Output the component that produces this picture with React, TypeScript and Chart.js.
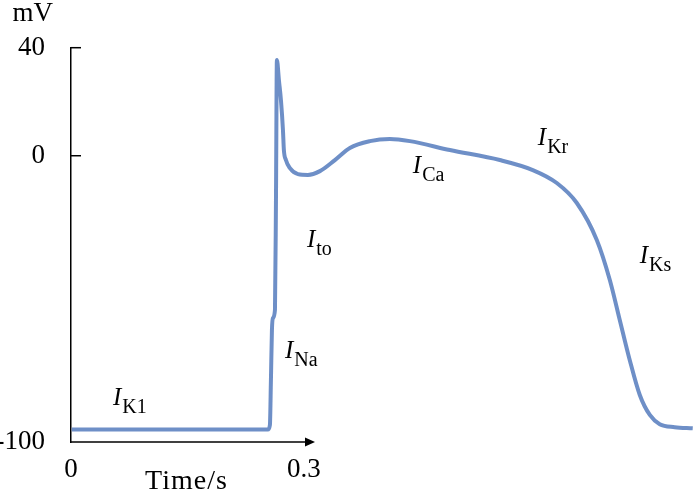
import React, { useEffect, useRef } from "react";
import { Chart, registerables } from "chart.js";

Chart.register(...registerables);

// ---- data ----
const timeS = [
  0.001, 0.2536, 0.2562, 0.2575, 0.2588, 0.2601, 0.2627, 0.264, 0.2652, 0.2678,
  0.2704, 0.273, 0.2742, 0.2768, 0.282, 0.2923, 0.3051, 0.3206, 0.3399, 0.3592,
  0.385, 0.4107, 0.4365, 0.488, 0.5523, 0.5948, 0.6257, 0.6515, 0.6772, 0.694,
  0.7068, 0.7197, 0.7326, 0.7455, 0.7583, 0.7776, 0.8008,
];
const voltageMV = [
  -101.4, -101.4, -99.7, -83.1, -64.6, -60.1, -57.1, -16.4, 35.4, 28.0,
  20.6, 9.5, 2.1, -1.6, -4.6, -6.8, -7.1, -5.7, -1.6, 2.9,
  5.4, 6.2, 5.4, 2.1, -1.6, -5.3, -10.1, -17.5, -31.2, -46.0,
  -60.8, -75.7, -88.6, -96.0, -99.4, -100.5, -100.9,
];

const Y_MIN = -106;
const Y_MAX = 40;
const X_MIN = 0;
const X_MAX = 0.805;
const X_ARROW_END = 0.313;

const yTickValues = [Y_MIN, 0, 40];
const yTickLabels = ["-100", "0", "40"];
const yInnerTickValues = [0, 40];
const xTickValues = [0, 0.3];
const xTickLabels = ["0", "0.3"];

const yUnitLabel = "mV";
const xAxisTitle = "Time/s";
const xAxisTitleAt = 0.1487;

const currentSubscripts = ["K1", "Na", "to", "Ca", "Kr", "Ks"];
const currentLabelT = [0.054, 0.2755, 0.3039, 0.4403, 0.6013, 0.7326];
const currentLabelV = [-92.3, -74.9, -33.8, -6.4, 4.0, -39.7];

const SERIF = '"Liberation Serif", "Times New Roman", serif';

const overlayPlugin = {
  id: "overlay",
  afterDraw(chart: any) {
    const { ctx, chartArea, scales } = chart;
    const xs = scales.x;
    const ys = scales.y;
    ctx.save();
    ctx.strokeStyle = "#000";
    ctx.fillStyle = "#000";
    ctx.lineWidth = 1.5;

    // inner tick marks on the y axis
    for (const v of yInnerTickValues) {
      const y = ys.getPixelForValue(v);
      ctx.beginPath();
      ctx.moveTo(chartArea.left, y);
      ctx.lineTo(chartArea.left + 10, y);
      ctx.stroke();
    }

    // x axis with arrow
    const yAxis = chartArea.bottom;
    const xEnd = xs.getPixelForValue(X_ARROW_END);
    ctx.beginPath();
    ctx.moveTo(chartArea.left - 0.75, yAxis);
    ctx.lineTo(xEnd - 6, yAxis);
    ctx.stroke();
    ctx.beginPath();
    ctx.moveTo(xEnd + 1, yAxis);
    ctx.lineTo(xEnd - 9, yAxis - 4.5);
    ctx.lineTo(xEnd - 9, yAxis + 4.5);
    ctx.closePath();
    ctx.fill();

    // unit label and axis title
    ctx.textBaseline = "alphabetic";
    ctx.font = `27px ${SERIF}`;
    ctx.textAlign = "right";
    ctx.fillText(yUnitLabel, 53, 21);
    ctx.font = `28px ${SERIF}`;
    ctx.textAlign = "center";
    try {
      (ctx as any).letterSpacing = "1px";
    } catch (e) {}
    ctx.fillText(xAxisTitle, xs.getPixelForValue(xAxisTitleAt), 489);
    try {
      (ctx as any).letterSpacing = "0px";
    } catch (e) {}

    // current annotations: italic I with subscript
    ctx.textAlign = "left";
    currentSubscripts.forEach((sub, i) => {
      const x = xs.getPixelForValue(currentLabelT[i]);
      const y = ys.getPixelForValue(currentLabelV[i]);
      ctx.font = `italic 25px ${SERIF}`;
      ctx.fillText("I", x, y);
      const w = ctx.measureText("I").width;
      ctx.font = `20px ${SERIF}`;
      ctx.fillText(sub, x + w + 1, y + 8);
    });

    ctx.restore();
  },
};

export default function App() {
  const canvasRef = useRef<HTMLCanvasElement | null>(null);

  useEffect(() => {
    if (!canvasRef.current) return;
    const points = timeS.map((t, i) => ({ x: t, y: voltageMV[i] }));
    const chart = new Chart(canvasRef.current, {
      type: "line",
      data: {
        datasets: [
          {
            data: points,
            borderColor: "rgba(98, 134, 194, 0.92)",
            borderWidth: 4,
            pointRadius: 0,
            cubicInterpolationMode: "monotone",
            fill: false,
          },
        ],
      },
      options: {
        animation: false,
        responsive: false,
        devicePixelRatio: 1,
        layout: { padding: { top: 47.7, right: 4, left: 0, bottom: 0 } },
        plugins: {
          legend: { display: false },
          tooltip: { enabled: false },
          title: { display: false },
        },
        scales: {
          x: {
            type: "linear",
            min: X_MIN,
            max: X_MAX,
            grid: { display: false },
            border: { display: false },
            afterBuildTicks: (scale: any) => {
              scale.ticks = xTickValues.map((v) => ({ value: v }));
            },
            afterFit: (scale: any) => {
              scale.height = 51;
            },
            ticks: {
              autoSkip: false,
              maxRotation: 0,
              padding: 4,
              color: "#000",
              font: { family: SERIF, size: 27 },
              callback: (_v: any, i: number) => xTickLabels[i],
            },
          },
          y: {
            type: "linear",
            min: Y_MIN,
            max: Y_MAX,
            grid: { display: false },
            border: { display: true, color: "#000", width: 1.5 },
            afterBuildTicks: (scale: any) => {
              scale.ticks = yTickValues.map((v) => ({ value: v }));
            },
            afterFit: (scale: any) => {
              scale.width = 71;
            },
            ticks: {
              autoSkip: false,
              padding: 18,
              color: "#000",
              font: { family: SERIF, size: 27 },
              callback: (_v: any, i: number) => yTickLabels[i],
            },
          },
        },
      },
      plugins: [overlayPlugin],
    });
    return () => chart.destroy();
  }, []);

  return (
    <div style={{ position: "absolute", left: 0, top: 0, width: 700, height: 493, background: "#fff" }}>
      <canvas ref={canvasRef} width={700} height={493} />
    </div>
  );
}
